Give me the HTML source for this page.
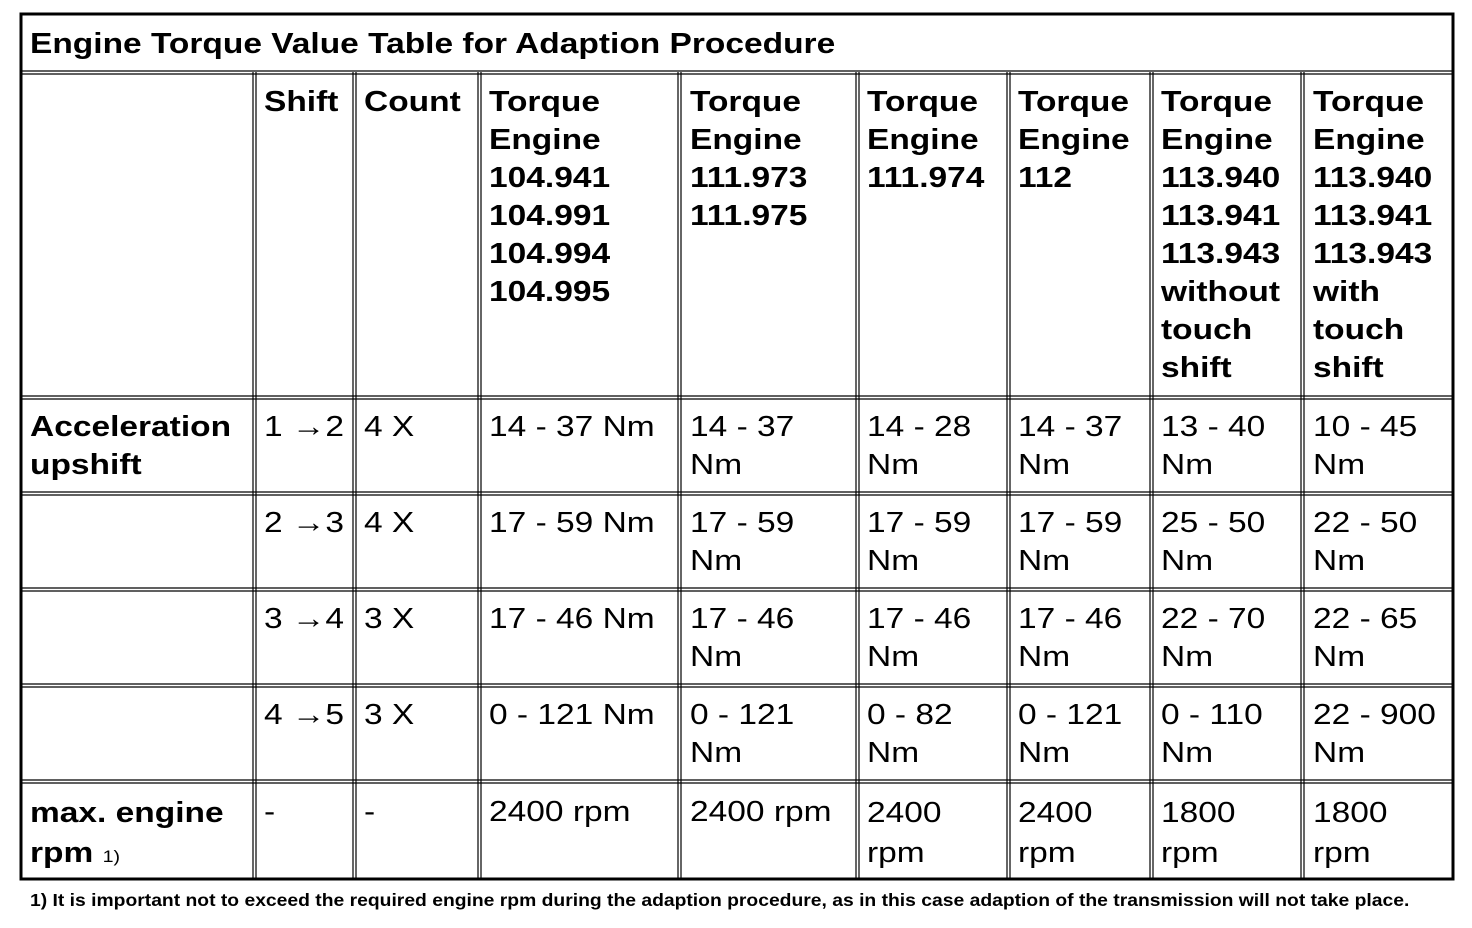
<!DOCTYPE html><html><head><style>
body{margin:0;width:1472px;height:928px;background:#fff;position:relative;overflow:hidden;font-family:"Liberation Sans",Arial,sans-serif;color:#000}
.t{position:absolute;font-size:29px;line-height:38px;white-space:nowrap;transform:scaleX(1.155);transform-origin:0 0}
.b{font-weight:bold}
</style></head><body>
<svg width="1472" height="928" style="position:absolute;left:0;top:0">
<g stroke="#000" stroke-width="1.2" fill="none">
<rect x="21" y="14" width="1432" height="865" stroke-width="3"/>
<line x1="21" y1="71" x2="1453" y2="71"/><line x1="21" y1="74" x2="1453" y2="74"/>
<line x1="21" y1="396" x2="1453" y2="396"/><line x1="21" y1="399" x2="1453" y2="399"/>
<line x1="21" y1="492" x2="1453" y2="492"/><line x1="21" y1="495" x2="1453" y2="495"/>
<line x1="21" y1="588" x2="1453" y2="588"/><line x1="21" y1="591" x2="1453" y2="591"/>
<line x1="21" y1="684" x2="1453" y2="684"/><line x1="21" y1="687" x2="1453" y2="687"/>
<line x1="21" y1="780" x2="1453" y2="780"/><line x1="21" y1="783" x2="1453" y2="783"/>
<g id="v">
<line x1="253" y1="72" x2="253" y2="879"/><line x1="256" y1="72" x2="256" y2="879"/>
<line x1="353" y1="72" x2="353" y2="879"/><line x1="356" y1="72" x2="356" y2="879"/>
<line x1="478" y1="72" x2="478" y2="879"/><line x1="481" y1="72" x2="481" y2="879"/>
<line x1="678" y1="72" x2="678" y2="879"/><line x1="681" y1="72" x2="681" y2="879"/>
<line x1="856" y1="72" x2="856" y2="879"/><line x1="859" y1="72" x2="859" y2="879"/>
<line x1="1007" y1="72" x2="1007" y2="879"/><line x1="1010" y1="72" x2="1010" y2="879"/>
<line x1="1150" y1="72" x2="1150" y2="879"/><line x1="1153" y1="72" x2="1153" y2="879"/>
<line x1="1301" y1="72" x2="1301" y2="879"/><line x1="1304" y1="72" x2="1304" y2="879"/>
</g></g></svg>
<div class="t b" style="left:30px;top:25px">Engine Torque Value Table for Adaption Procedure</div>
<div class="t b" style="left:264px;top:83px">Shift</div>
<div class="t b" style="left:364px;top:83px">Count</div>
<div class="t b" style="left:489px;top:83px">Torque<br>Engine<br>104.941<br>104.991<br>104.994<br>104.995</div>
<div class="t b" style="left:690px;top:83px">Torque<br>Engine<br>111.973<br>111.975</div>
<div class="t b" style="left:867px;top:83px">Torque<br>Engine<br>111.974</div>
<div class="t b" style="left:1018px;top:83px">Torque<br>Engine<br>112</div>
<div class="t b" style="left:1161px;top:83px">Torque<br>Engine<br>113.940<br>113.941<br>113.943<br>without<br>touch<br>shift</div>
<div class="t b" style="left:1313px;top:83px">Torque<br>Engine<br>113.940<br>113.941<br>113.943<br>with<br>touch<br>shift</div>

<div class="t b" style="left:30px;top:408px">Acceleration<br>upshift</div>
<div class="t" style="left:264px;top:408px">1 →2</div><div class="t" style="left:364px;top:408px">4 X</div>
<div class="t" style="left:489px;top:408px">14 - 37 Nm</div><div class="t" style="left:690px;top:408px">14 - 37<br>Nm</div>
<div class="t" style="left:867px;top:408px">14 - 28<br>Nm</div><div class="t" style="left:1018px;top:408px">14 - 37<br>Nm</div>
<div class="t" style="left:1161px;top:408px">13 - 40<br>Nm</div><div class="t" style="left:1313px;top:408px">10 - 45<br>Nm</div>

<div class="t" style="left:264px;top:504px">2 →3</div><div class="t" style="left:364px;top:504px">4 X</div>
<div class="t" style="left:489px;top:504px">17 - 59 Nm</div><div class="t" style="left:690px;top:504px">17 - 59<br>Nm</div>
<div class="t" style="left:867px;top:504px">17 - 59<br>Nm</div><div class="t" style="left:1018px;top:504px">17 - 59<br>Nm</div>
<div class="t" style="left:1161px;top:504px">25 - 50<br>Nm</div><div class="t" style="left:1313px;top:504px">22 - 50<br>Nm</div>

<div class="t" style="left:264px;top:600px">3 →4</div><div class="t" style="left:364px;top:600px">3 X</div>
<div class="t" style="left:489px;top:600px">17 - 46 Nm</div><div class="t" style="left:690px;top:600px">17 - 46<br>Nm</div>
<div class="t" style="left:867px;top:600px">17 - 46<br>Nm</div><div class="t" style="left:1018px;top:600px">17 - 46<br>Nm</div>
<div class="t" style="left:1161px;top:600px">22 - 70<br>Nm</div><div class="t" style="left:1313px;top:600px">22 - 65<br>Nm</div>

<div class="t" style="left:264px;top:696px">4 →5</div><div class="t" style="left:364px;top:696px">3 X</div>
<div class="t" style="left:489px;top:696px">0 - 121 Nm</div><div class="t" style="left:690px;top:696px">0 - 121<br>Nm</div>
<div class="t" style="left:867px;top:696px">0 - 82<br>Nm</div><div class="t" style="left:1018px;top:696px">0 - 121<br>Nm</div>
<div class="t" style="left:1161px;top:696px">0 - 110<br>Nm</div><div class="t" style="left:1313px;top:696px">22 - 900<br>Nm</div>

<div class="t b" style="left:30px;top:793px;line-height:40px">max. engine<br>rpm <span style="font-size:17px;font-weight:normal">1)</span></div>
<div class="t" style="left:264px;top:793px">-</div><div class="t" style="left:364px;top:793px">-</div>
<div class="t" style="left:489px;top:793px">2400 rpm</div><div class="t" style="left:690px;top:793px">2400 rpm</div>
<div class="t" style="left:867px;top:793px;line-height:40px">2400<br>rpm</div><div class="t" style="left:1018px;top:793px;line-height:40px">2400<br>rpm</div>
<div class="t" style="left:1161px;top:793px;line-height:40px">1800<br>rpm</div><div class="t" style="left:1313px;top:793px;line-height:40px">1800<br>rpm</div>

<div class="t b" style="left:30px;top:889px;font-size:17.3px;line-height:22px;transform:scaleX(1.117)">1) It is important not to exceed the required engine rpm during the adaption procedure, as in this case adaption of the transmission will not take place.</div>
</body></html>
